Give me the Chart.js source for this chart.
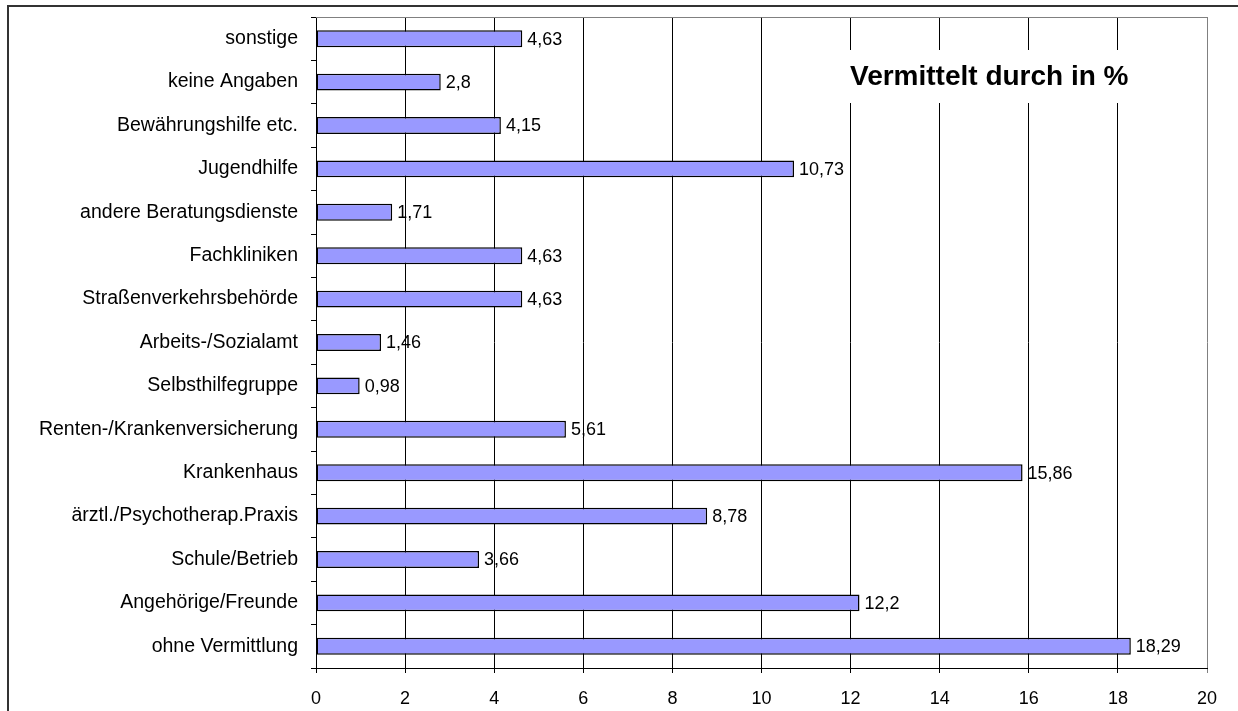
<!DOCTYPE html>
<html lang="de">
<head>
  <meta charset="utf-8">
  <title>Vermittelt durch in %</title>
  <script src="https://cdn.jsdelivr.net/npm/chart.js@4.4.0/dist/chart.umd.min.js"></script>
  <style>
    html, body { margin: 0; padding: 0; background: #fff; }
    #wrap { width: 1238px; height: 711px; }
  </style>
</head>
<body>
  <div id="wrap"><canvas id="myChart" width="1238" height="711"></canvas></div>
  <script>
    // data, top to bottom
    var categories = ['sonstige', 'keine Angaben', 'Bewährungshilfe etc.', 'Jugendhilfe',
      'andere Beratungsdienste', 'Fachkliniken', 'Straßenverkehrsbehörde', 'Arbeits-/Sozialamt',
      'Selbsthilfegruppe', 'Renten-/Krankenversicherung', 'Krankenhaus',
      'ärztl./Psychotherap.Praxis', 'Schule/Betrieb', 'Angehörige/Freunde', 'ohne Vermittlung'];
    var values = [4.63, 2.8, 4.15, 10.73, 1.71, 4.63, 4.63, 1.46, 0.98, 5.61, 15.86, 8.78, 3.66, 12.2, 18.29];
    var xMin = 0, xMax = 20, xStep = 2;
    var titleText = 'Vermittelt durch in %';

    var fontFamily = "'Liberation Sans', Arial, sans-serif";

    // frame, title box and value labels
    var extras = {
      id: 'extras',
      beforeDatasetsDraw: function (chart) {
        var c = chart.ctx, a = chart.chartArea;
        c.save();
        // plot border top + right (grey)
        c.strokeStyle = '#808080';
        c.lineWidth = 1;
        c.beginPath();
        c.moveTo(a.left, Math.round(a.top) + 0.5);
        c.lineTo(a.right + 0.5, Math.round(a.top) + 0.5);
        c.stroke();
        // title box over the grid
        c.fillStyle = '#fff';
        c.fillRect(845, 50, 305, 53);
        c.fillStyle = '#000';
        c.font = 'bold 28px ' + fontFamily;
        c.textBaseline = 'middle';
        c.textAlign = 'left';
        c.fillText(titleText, 850, 77);
        c.restore();
      },
      afterDatasetsDraw: function (chart) {
        var c = chart.ctx;
        var meta = chart.getDatasetMeta(0);
        c.save();
        c.fillStyle = '#000';
        c.font = '18px ' + fontFamily;
        c.textBaseline = 'middle';
        c.textAlign = 'left';
        meta.data.forEach(function (bar, i) {
          var txt = String(values[i]).replace('.', ',');
          c.fillText(txt, bar.x + 5, bar.y + 1);
        });
        c.restore();
      },
      afterDraw: function (chart) {
        var c = chart.ctx;
        c.save();
        c.strokeStyle = '#333';
        c.lineWidth = 2;
        c.strokeRect(8, 6, 2000, 2000);
        c.restore();
      }
    };

    var ctx = document.getElementById('myChart');
    var myChart = new Chart(ctx, {
      type: 'bar',
      data: {
        labels: categories,
        datasets: [{
          data: values,
          backgroundColor: '#9999FF',
          borderColor: '#000',
          borderWidth: 1.5,
          borderSkipped: false,
          barPercentage: 0.39,
          categoryPercentage: 1
        }]
      },
      options: {
        indexAxis: 'y',
        responsive: false,
        animation: false,
        layout: { padding: { left: 0, top: 17, right: 31, bottom: 0 } },
        plugins: {
          legend: { display: false },
          tooltip: { enabled: false },
          title: { display: false }
        },
        scales: {
          x: {
            min: xMin,
            max: xMax,
            afterFit: function (scale) {
              scale.height = 43;
              scale.paddingLeft = 0;
              scale.paddingRight = 0;
            },
            ticks: {
              stepSize: xStep,
              color: '#000',
              padding: 15,
              font: { family: fontFamily, size: 18 }
            },
            grid: {
              color: function (c) { return c.tick && c.tick.value === xMax ? '#808080' : '#000'; },
              lineWidth: 1,
              tickLength: 5,
              drawTicks: true
            },
            border: { color: '#000', width: 1 }
          },
          y: {
            afterFit: function (scale) {
              scale.width = 316;
              scale.paddingTop = 0;
              scale.paddingBottom = 0;
            },
            ticks: {
              color: '#000',
              padding: 13,
              font: { family: fontFamily, size: 19.5 }
            },
            grid: {
              offset: true,
              drawOnChartArea: false,
              color: '#000',
              tickLength: 5
            },
            border: { color: '#000', width: 1 }
          }
        }
      },
      plugins: [extras]
    });
  </script>
</body>
</html>
